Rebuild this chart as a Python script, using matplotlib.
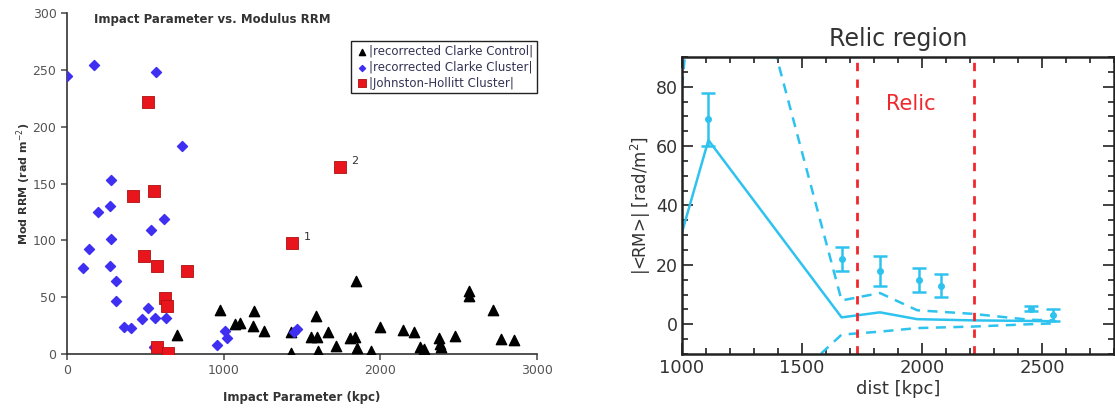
import matplotlib
matplotlib.use("Agg")
from matplotlib import pyplot as plt
from matplotlib.ticker import MultipleLocator

# --- left panel: impact parameter vs |RRM| ---
control_x = [702, 978, 1072, 1104, 1193, 1191, 1259, 1430, 1430, 1555, 1589, 1597,
             1600, 1668, 1717, 1806, 1838, 1848, 1853, 1944, 1997, 2146, 2217,
             2257, 2278, 2376, 2384, 2387, 2478, 2565, 2565, 2721, 2768, 2853]
control_y = [17, 39, 26, 27, 38, 25, 20, 19, 1, 15, 33, 15,
             3, 19, 7, 14, 15, 64, 5, 3, 24, 21, 19,
             6, 4, 14, 9, 6, 16, 55, 51, 39, 13, 12]

cluster_x = [0, 172, 568, 734, 281, 200, 274, 619, 534, 281, 140, 104, 274, 311,
             311, 515, 481, 562, 634, 362, 410, 557, 960, 1010, 1025, 1450, 1470]
cluster_y = [245, 254, 248, 183, 153, 125, 130, 119, 109, 101, 92, 76, 77, 64,
             47, 40, 31, 32, 32, 24, 23, 6, 8, 20, 14, 19, 22]

jh_x = [519, 423, 555, 489, 576, 766, 625, 642, 576, 644, 1440, 1742]
jh_y = [222, 139, 143, 86, 77, 73, 49, 42, 6, 1, 98, 165]
jh_labels = {10: "1", 11: "2"}

# --- right panel: relic region profile ---
prof_dist = [1000, 1110, 1665, 1825, 1980, 2210, 2450, 2555]
prof_mean = [31, 62, 2.3, 4.0, 1.7, 1.3, 1.1, 1.0]
prof_upper = [80, 176, 8.0, 10.5, 4.7, 3.5, 1.5, 1.3]
prof_lower = [-18, -45, -3.5, -2.5, -1.3, -0.8, 0.0, 0.3]

obs_dist = [1110, 1668, 1827, 1986, 2078, 2453, 2547]
obs_rm = [69, 22, 18, 15, 13, 5.2, 3]
obs_err = [9, 4, 5, 4, 4, 0.8, 2]

relic_edges = [1730, 2215]

CYAN = "#2ec3ef"

fig = plt.figure(figsize=(11.15, 4.12), dpi=100)

ax1 = fig.add_axes([0.060, 0.141, 0.4215, 0.827])
ax1.scatter(control_x, control_y, marker="^", s=55, c="black",
            label="|recorrected Clarke Control|", zorder=3)
ax1.scatter(cluster_x, cluster_y, marker="D", s=26, c="#3f2ff0",
            label="|recorrected Clarke Cluster|", zorder=3)
ax1.scatter(jh_x, jh_y, marker="s", s=75, c="#e8161c", edgecolors="#b01010",
            linewidths=0.6, label="|Johnston-Hollitt Cluster|", zorder=4)
for i, lab in jh_labels.items():
    ax1.annotate(lab, (jh_x[i], jh_y[i]), xytext=(8, 2), textcoords="offset points",
                 fontsize=8, color="#333333")

ax1.set_xlim(0, 3000)
ax1.set_ylim(0, 300)
ax1.set_xticks([0, 1000, 2000, 3000])
ax1.set_yticks(range(0, 301, 50))
for side in ["top", "right"]:
    ax1.spines[side].set_visible(False)
for side in ["left", "bottom"]:
    ax1.spines[side].set_color("#333333")
    ax1.spines[side].set_linewidth(1.2)
ax1.tick_params(colors="#555555", labelsize=9, length=4, width=1.2)
# title sits inside the plot area, just under the top
ax1.text(0.31, 0.98, "Impact Parameter vs. Modulus RRM", transform=ax1.transAxes,
         fontsize=8.5, fontweight="bold", color="#333333", ha="center", va="center")
ax1.set_xlabel("Impact Parameter (kpc)", fontsize=8.5, fontweight="bold",
               color="#333333", labelpad=10)
ax1.set_ylabel("Mod RRM (rad m$^{-2}$)", fontsize=8, fontweight="bold",
               color="#333333", labelpad=0)
leg = ax1.legend(loc="upper right", bbox_to_anchor=(1.0, 0.918), fontsize=8.5,
                 fancybox=False, edgecolor="#222222", framealpha=1,
                 handletextpad=0.0, borderpad=0.3, labelspacing=0.25,
                 handlelength=1.2, borderaxespad=0, markerscale=0.6)
leg.get_frame().set_linewidth(1.0)
for t in leg.get_texts():
    t.set_color("#333355")

# right panel
ax2 = fig.add_axes([0.6117, 0.141, 0.3873, 0.7207])
ax2.plot(prof_dist, prof_mean, color=CYAN, lw=1.8)
ax2.plot(prof_dist, prof_upper, color=CYAN, lw=1.8, ls=(0, (4, 3)))
ax2.plot(prof_dist, prof_lower, color=CYAN, lw=1.8, ls=(0, (4, 3)))
ax2.errorbar(obs_dist, obs_rm, yerr=obs_err, fmt="o", ms=4, color=CYAN,
             ecolor=CYAN, elinewidth=1.8, capsize=5, capthick=1.8)
for xe in relic_edges:
    ax2.axvline(xe, color="#f0282d", lw=2, ls=(0, (3, 3)))
ax2.text(1955, 74, "Relic", color="#f0282d", fontsize=15, ha="center", va="center")

ax2.set_xlim(1000, 2800)
ax2.set_ylim(-10, 90)
ax2.xaxis.set_major_locator(MultipleLocator(500))
ax2.xaxis.set_minor_locator(MultipleLocator(100))
ax2.yaxis.set_major_locator(MultipleLocator(20))
ax2.yaxis.set_minor_locator(MultipleLocator(5))
ax2.tick_params(which="both", direction="in", top=True, right=True, width=1.3,
                labelsize=13, colors="#333333")
ax2.tick_params(axis="y", labelsize=12.5, pad=3)
ax2.tick_params(which="major", length=8)
ax2.tick_params(which="minor", length=4)
for s in ax2.spines.values():
    s.set_linewidth(1.8)
    s.set_color("#222222")
ax2.set_title("Relic region", fontsize=17, color="#333333", pad=8)
ax2.set_xlabel("dist [kpc]", fontsize=13, color="#333333", labelpad=2)
ax2.set_ylabel("|<RM>| [rad/m$^2$]", fontsize=12, color="#333333", labelpad=2)

plt.savefig("out.png", dpi=100)
plt.close()
